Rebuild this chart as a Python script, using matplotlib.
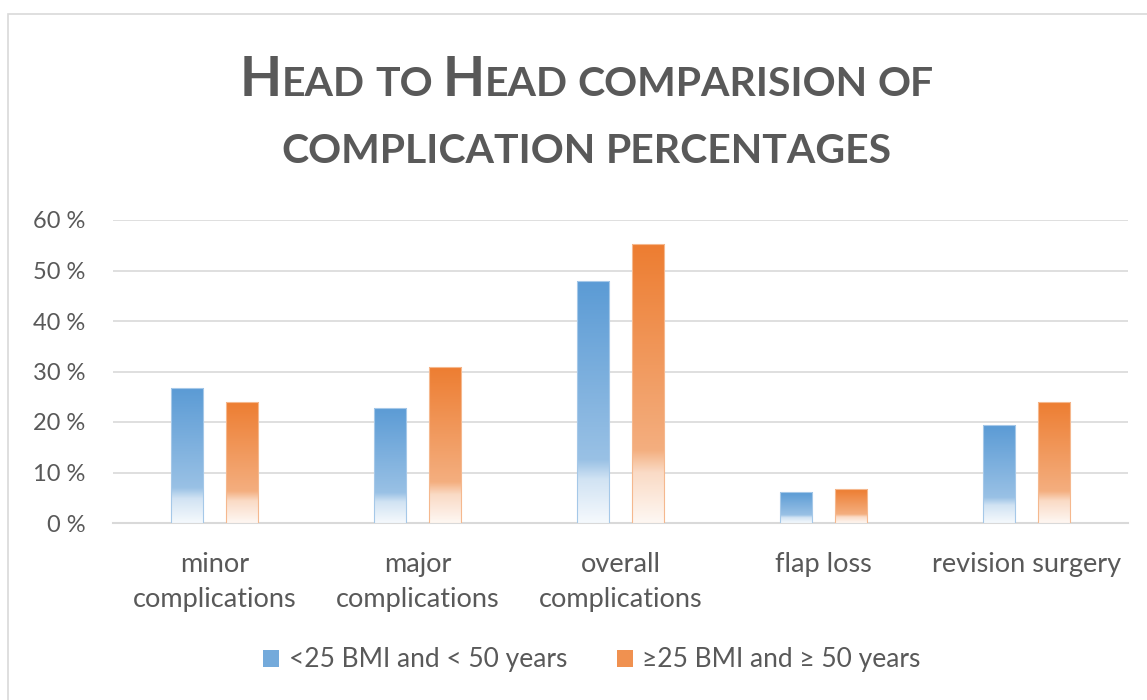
import numpy as np
import matplotlib
matplotlib.use("Agg")
import matplotlib.pyplot as plt
from matplotlib.patches import Rectangle, Patch
from matplotlib.colors import to_rgb
from matplotlib.ticker import FuncFormatter

categories = ["minor\ncomplications", "major\ncomplications", "overall\ncomplications",
              "flap loss", "revision surgery"]
series_names = ["<25 BMI and < 50 years", "≥25 BMI and ≥ 50 years"]
young_lean = [26.7, 22.8, 47.9, 6.1, 19.4]
old_heavy = [24.0, 30.9, 55.2, 6.7, 24.0]
yticks = [0, 10, 20, 30, 40, 50, 60]

colors = ["#5B9BD5", "#ED7D31"]
text_gray = "#595959"
grid_gray = "#D9D9D9"

plt.rcParams['font.family'] = ['Lato', 'DejaVu Sans']

W, H = 1147, 700
fig = plt.figure(figsize=(W / 100, H / 100), dpi=100)
ax = fig.add_axes([113 / W, 1 - 523 / H, (1128 - 113) / W, (523 - 220) / H])

def mix(c, t):
    r = np.array(to_rgb(c))
    return r + (1 - r) * t

def gradient_image(c):
    stops = [(0.0, 0.0), (0.74, 0.38), (0.82, 0.72), (1.0, 0.94)]
    n = 200
    ys = np.linspace(0, 1, n)
    ts = np.interp(ys, [s[0] for s in stops], [s[1] for s in stops])
    img = np.array([mix(c, t) for t in ts])[:, None, :]
    return img

x = np.arange(len(categories))
width = 0.16
offset = 0.135
for vals, c, sgn in [(young_lean, colors[0], -1), (old_heavy, colors[1], 1)]:
    bars = ax.bar(x + sgn * offset, vals, width, color="none", edgecolor="none", zorder=3)
    img = gradient_image(c)
    for b in bars:
        x0, y0 = b.get_x(), b.get_y()
        w, h = b.get_width(), b.get_height()
        im = ax.imshow(img, extent=[x0, x0 + w, y0, y0 + h], origin="upper",
                       aspect="auto", zorder=3, interpolation="bilinear")
        im.set_clip_path(b)
        ax.add_patch(Rectangle((x0, y0), w, h, fill=False, edgecolor=mix(c, 0.45),
                               linewidth=0.8, zorder=4))

ax.set_xlim(-0.5, len(categories) - 0.5)
ax.set_ylim(0, 60)
ax.set_yticks(yticks)
ax.yaxis.set_major_formatter(FuncFormatter(lambda v, p: f"{int(v)} %"))
ax.set_xticks(x)
ax.set_xticklabels(categories, linespacing=1.5)
ax.tick_params(axis="both", length=0, labelcolor=text_gray)
ax.tick_params(axis="x", pad=21, labelsize=19.5)
ax.tick_params(axis="y", pad=20, labelsize=17)
ax.grid(axis="y", color=grid_gray, linewidth=1.2, zorder=0)
ax.set_axisbelow(True)
for s in ["top", "right", "left"]:
    ax.spines[s].set_visible(False)
ax.spines["bottom"].set_color(grid_gray)
ax.spines["bottom"].set_linewidth(1.5)

# chart border
fig.patches.append(Rectangle((8 / W, -0.05), 1.2, 1 - 14 / H + 0.05, transform=fig.transFigure,
                             fill=False, edgecolor="#D9D9D9", linewidth=1.2))

# small caps title
def smallcaps_line(segments, ybase, xcenter):
    texts = []
    for s, fs in segments:
        t = fig.text(0, ybase, s, fontsize=fs, fontweight="bold", color=text_gray,
                     va="baseline", ha="left")
        texts.append(t)
    fig.canvas.draw()
    r = fig.canvas.get_renderer()
    widths = [t.get_window_extent(r).width for t in texts]
    total = sum(widths)
    xpx = xcenter - total / 2
    for t, w in zip(texts, widths):
        t.set_x(xpx / W)
        xpx += w

big, small = 39.5, 29.5
smallcaps_line([("H", big), ("EAD", small), (" ", small), ("TO", small), (" ", small),
                ("H", big), ("EAD", small), (" ", small), ("COMPARISION", small), (" ", small),
                ("OF", small)], 1 - 96 / H, 587)
smallcaps_line([("COMPLICATION", small), (" ", small), ("PERCENTAGES", small)], 1 - 163 / H, 587)

handles = [Patch(facecolor=mix(c, 0.15), edgecolor="none") for c in colors]
fig.legend(handles, series_names, loc="center", bbox_to_anchor=(592 / W, 1 - 660 / H),
           ncol=2, frameon=False, fontsize=19, labelcolor=text_gray,
           handlelength=0.6, handleheight=0.6, handletextpad=0.35, columnspacing=1.9)

fig.savefig("out.png", dpi=100)
